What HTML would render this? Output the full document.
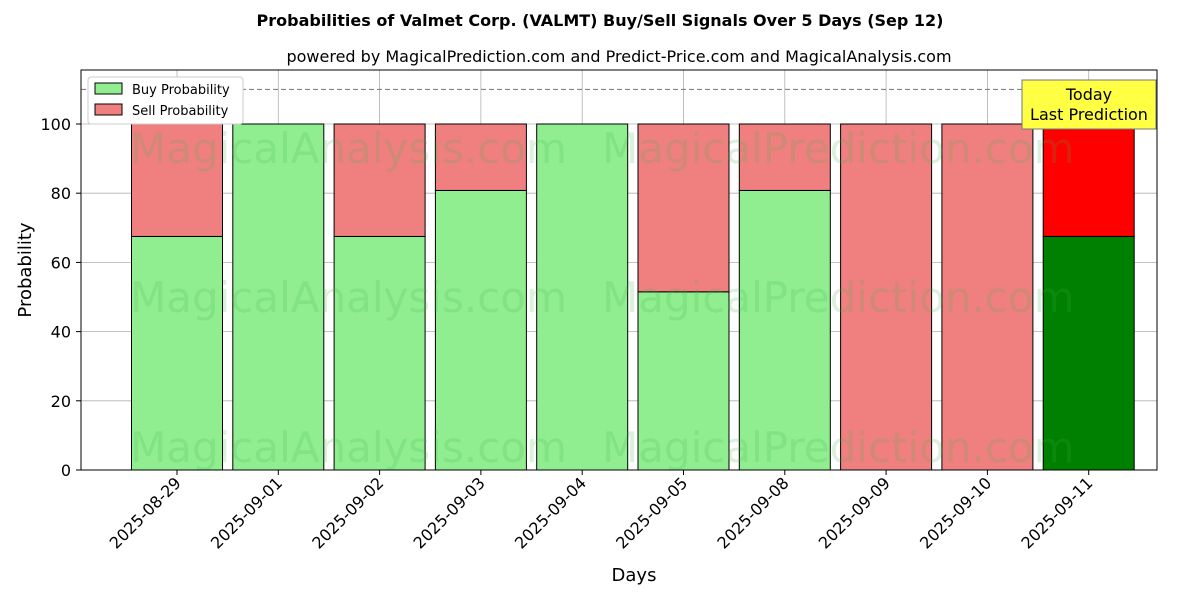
<!DOCTYPE html>
<html><head><meta charset="utf-8"><style>
body{margin:0;background:#fff;font-family:"Liberation Sans","DejaVu Sans",sans-serif}
text{font-family:"DejaVu Sans","Liberation Sans",sans-serif}
</style></head><body>
<svg id="c" width="1200" height="600" xmlns="http://www.w3.org/2000/svg">
<text x="600" y="26" text-anchor="middle" font-size="16" font-weight="bold">Probabilities of Valmet Corp. (VALMT) Buy/Sell Signals Over 5 Days (Sep 12)</text>
<text x="619" y="62" text-anchor="middle" font-size="16">powered by MagicalPrediction.com and Predict-Price.com and MagicalAnalysis.com</text>
<g id="grid"></g>
<g id="bars"></g>
<g id="wm" fill="#3cb043" fill-opacity="0.18" font-size="42">
<text x="130" y="163">MagicalAnalysis.com</text><text x="602" y="163">MagicalPrediction.com</text>
<text x="130" y="312">MagicalAnalysis.com</text><text x="602" y="312">MagicalPrediction.com</text>
<text x="130" y="462">MagicalAnalysis.com</text><text x="602" y="462">MagicalPrediction.com</text>
</g>
<line x1="81" x2="1157" y1="89.4" y2="89.4" stroke="#777" stroke-dasharray="5,3"/>
<rect x="81" y="70" width="1076" height="400" fill="none" stroke="#000"/>
<g id="axes"></g>
<text x="634" y="581" text-anchor="middle" font-size="18">Days</text>
<text transform="translate(31,270) rotate(-90)" text-anchor="middle" font-size="18">Probability</text>
<g>
<rect x="88" y="77" width="155" height="47" fill="#fff" stroke="#ccc" rx="3"/>
<rect x="95" y="83" width="27" height="11" fill="#90ee90" stroke="#000"/>
<text x="132" y="94" font-size="13">Buy Probability</text>
<rect x="95" y="104" width="27" height="11" fill="#f08080" stroke="#000"/>
<text x="132" y="115" font-size="13">Sell Probability</text>
</g>
<g>
<rect x="1022" y="80" width="134" height="49" fill="#ffff44" stroke="#777"/>
<text x="1089" y="100" text-anchor="middle" font-size="16">Today</text>
<text x="1089" y="120" text-anchor="middle" font-size="16">Last Prediction</text>
</g>
</svg>
<script>
const categories=["2025-08-29","2025-09-01","2025-09-02","2025-09-03","2025-09-04","2025-09-05","2025-09-08","2025-09-09","2025-09-10","2025-09-11"];
const buyValues=[67.5,100,67.5,80.8,100,51.5,80.8,0,0,67.5];
const sellValues=[32.5,0,32.5,19.2,0,48.5,19.2,100,100,32.5];
const yTicks=[0,20,40,60,80,100];
const NS="http://www.w3.org/2000/svg";
const x=i=>177+i*101.3, y=v=>470-v*3.46, bw=91;
function mk(t,a,p){const e=document.createElementNS(NS,t);for(const k in a)e.setAttribute(k,a[k]);p.appendChild(e);return e;}
const g=document.getElementById('grid'),b=document.getElementById('bars'),ax=document.getElementById('axes');
yTicks.forEach(v=>{
 const l=mk('line',{x1:81,x2:1157,y1:y(v),y2:y(v),stroke:'#b0b0b0','stroke-width':0.8},g);
 
 
 mk('line',{x1:76,x2:81,y1:y(v),y2:y(v),stroke:'#000'},ax);
 const t=mk('text',{x:71,y:y(v)+6,'text-anchor':'end','font-size':16},ax);t.textContent=v;
 
 
});
categories.forEach((c,i)=>{
 const l=mk('line',{x1:x(i),x2:x(i),y1:70,y2:470,stroke:'#b0b0b0','stroke-width':0.8},g);
 
 
 const last=i===categories.length-1;
 const r1=mk('rect',{x:x(i)-bw/2,y:y(buyValues[i]),width:bw,height:buyValues[i]*3.46,fill:last?'#008000':'#90ee90',stroke:'#000'},b);
 
 
 const r2=mk('rect',{x:x(i)-bw/2,y:y(buyValues[i]+sellValues[i]),width:bw,height:sellValues[i]*3.46,fill:last?'#ff0000':'#f08080',stroke:'#000'},b);
 
 
 mk('line',{x1:x(i),x2:x(i),y1:470,y2:475,stroke:'#000'},ax);
 const t=mk('text',{x:0,y:0,'text-anchor':'end','font-size':16,transform:`translate(${x(i)+5},${484}) rotate(-45)`},ax);t.textContent=c;
 
 
});
</script>
</body></html>
